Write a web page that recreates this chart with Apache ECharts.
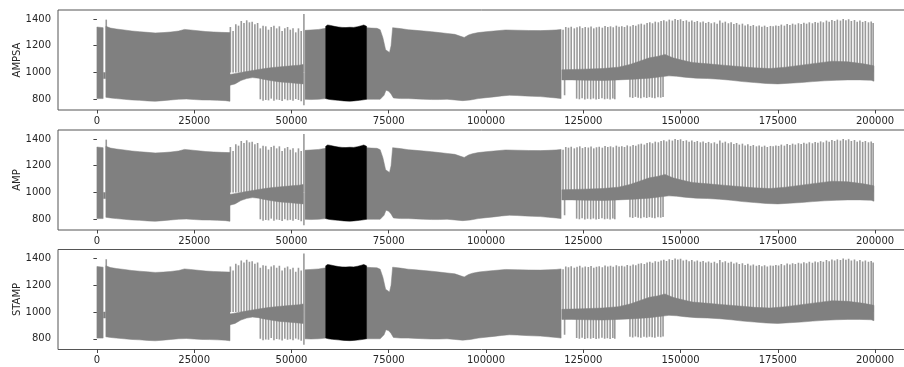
<!DOCTYPE html>
<html><head><meta charset="utf-8">
<script src="https://cdn.jsdelivr.net/npm/echarts@6/dist/echarts.min.js"></script>
<style>html,body{margin:0;padding:0;background:#fff}#c{width:904px;height:367px}</style>
</head><body><div id="c"></div>
<script>
const panelNames = ['AMPSA', 'AMP', 'STAMP'];
const xTicks = [0, 25000, 50000, 75000, 100000, 125000, 150000, 175000, 200000];
const yTicks = [800, 1000, 1200, 1400];

// dense envelope bands [x, value]
const bandA1Top = [[0,1340],[1600,1335]];
const bandA1Bottom = [[0,805],[1600,805]];
const bandA0Top = [[1700,1000],[2200,1000]];
const bandA0Bottom = [[1700,955],[2200,955]];
const bandA2Top = [[2300,1345],[3500,1332],[5000,1325],[7000,1318],[9000,1310],[11000,1305],[13000,1300],[15000,1296],[17000,1298],[19000,1303],[21000,1310],[22500,1322],[24000,1318],[26000,1312],[28000,1306],[30000,1303],[32000,1300],[34200,1298]];
const bandA2Bottom = [[2300,815],[3500,810],[5000,805],[7000,800],[9000,795],[11000,792],[13000,788],[15000,785],[17000,790],[19000,795],[21000,800],[23000,802],[25000,798],[27000,795],[29000,794],[31000,792],[33000,790],[34200,785]];
const bandBTop = [[34200,985],[36000,995],[38000,1005],[40000,1015],[42000,1025],[44000,1033],[46000,1040],[48000,1045],[50000,1050],[52000,1055],[53000,1060]];
const bandBBottom = [[34200,905],[35500,915],[37000,940],[38500,955],[40000,962],[41500,958],[43000,948],[45000,938],[47000,930],[49000,925],[51000,920],[53000,915]];
const bandCTop = [[53500,1315],[55000,1318],[57000,1322],[58800,1330]];
const bandCBottom = [[53500,800],[55000,798],[57000,800],[58800,805]];
const bandDTop = [[58800,1345],[59300,1355],[60000,1352],[61000,1345],[62000,1340],[63000,1337],[64000,1336],[65000,1338],[66000,1337],[67000,1342],[68000,1350],[68600,1355],[69300,1345]];
const bandDBottom = [[58800,805],[59500,800],[60500,796],[62000,792],[63500,788],[65000,786],[66000,788],[67500,792],[68500,796],[69300,800]];
const bandETop = [[69300,1335],[70500,1332],[72000,1330],[72800,1320],[73500,1260],[74200,1170],[75200,1150],[75600,1200],[76000,1335],[78000,1328],[80000,1320],[82000,1315],[84000,1310],[86000,1305],[88000,1298],[90000,1292],[92000,1285],[93500,1270],[94400,1262],[95500,1280],[96500,1290],[98000,1298],[100000,1305],[102000,1310],[105000,1318],[108000,1316],[111000,1314],[114000,1313],[116000,1315],[118000,1318],[119300,1322]];
const bandEBottom = [[69300,800],[71000,800],[72800,800],[73800,830],[74300,868],[75000,860],[75600,840],[76200,810],[78000,805],[80000,805],[82000,803],[84000,800],[86000,798],[88000,798],[90000,800],[92000,795],[94000,790],[96000,795],[98000,805],[100000,812],[102000,818],[104000,825],[106000,830],[108000,828],[110000,825],[112000,822],[114000,820],[116000,815],[118000,810],[119300,805]];
const bandFTop = [[119500,1020],[125000,1025],[130000,1030],[134000,1040],[137000,1060],[140000,1090],[142000,1110],[144000,1120],[146000,1135],[148000,1110],[150000,1095],[153000,1075],[157000,1065],[161000,1055],[165000,1045],[169000,1035],[173000,1030],[177000,1040],[181000,1055],[185000,1070],[189000,1085],[193000,1080],[197000,1065],[199700,1050]];
const bandFBottom = [[119500,945],[122000,945],[126000,942],[130000,940],[134000,945],[138000,950],[142000,958],[145000,968],[147000,975],[149000,972],[151000,965],[154000,958],[157000,955],[160000,950],[163000,942],[166000,932],[169000,925],[172000,918],[175000,915],[178000,920],[181000,925],[184000,932],[187000,938],[190000,942],[193000,945],[196000,945],[199000,942],[199700,935]];

// upward spikes: x and top value (base inside central band)
const upX = [2400, 53200,
  34300,35000,35700,36400,37100,37800,38500,39200,39900,40600,41300,42000,42700,43400,44100,44800,45500,46200,46900,47600,48300,49000,49700,50400,51100,51800,52500,
  119800,120500,121200,121900,122700,123400,124100,124800,125500,126300,127000,127700,128400,129100,129900,130600,131300,132000,132700,133500,134200,134900,135600,136300,137100,137800,138500,139200,139900,140700,141400,142100,142800,143500,144300,145000,145700,146400,147100,147900,148600,149300,150000,150700,151500,152200,152900,153600,154300,155100,155800,156500,157200,157900,158700,159400,160100,160800,161500,162300,163000,163700,164400,165100,165900,166600,167300,168000,168700,169500,170200,170900,171600,172300,173100,173800,174500,175200,175900,176700,177400,178100,178800,179500,180300,181000,181700,182400,183100,183900,184600,185300,186000,186700,187500,188200,188900,189600,190300,191100,191800,192500,193200,193900,194700,195400,196100,196800,197500,198300,199000,199500];
const upTop = [1395, 1437,
  1340,1310,1360,1350,1385,1370,1390,1375,1380,1360,1370,1330,1350,1345,1320,1340,1350,1330,1345,1310,1330,1340,1320,1330,1300,1330,1310,
  1320,1340,1335,1342,1330,1338,1345,1332,1340,1336,1344,1330,1338,1342,1335,1348,1340,1345,1338,1350,1342,1346,1340,1352,1345,1355,1350,1360,1365,1358,1370,1375,1368,1380,1375,1385,1390,1382,1395,1388,1400,1392,1398,1385,1390,1380,1388,1378,1385,1375,1382,1370,1378,1368,1375,1365,1388,1372,1380,1368,1375,1362,1370,1358,1365,1352,1360,1348,1355,1345,1352,1342,1350,1340,1348,1345,1352,1348,1358,1350,1362,1355,1365,1358,1368,1362,1372,1365,1375,1368,1378,1372,1382,1375,1388,1380,1392,1385,1395,1388,1400,1390,1398,1385,1392,1380,1388,1378,1385,1375,1382,1370];
// downward spikes: x and bottom value
const downX = [53200,
  42000,42700,43400,44100,44800,45500,46200,46900,47600,48300,49000,49700,50400,51100,51800,52500,
  120200,123300,124000,124700,125400,126100,126900,127600,128300,129000,129800,130500,131200,131900,132600,133100,
  137000,137700,138400,139100,139800,140600,141300,142000,142700,143400,144200,144900,145500];
const downBottom = [755,
  800,790,795,792,805,790,798,795,788,800,792,796,790,802,795,785,
  830,805,800,808,798,804,800,806,798,802,808,800,804,798,806,800,
  815,810,818,812,808,815,810,816,812,808,815,812,818];

const bandColor = '#808080';
const bands = [
  {top: bandA1Top, bottom: bandA1Bottom, color: bandColor},
  {top: bandA0Top, bottom: bandA0Bottom, color: bandColor},
  {top: bandA2Top, bottom: bandA2Bottom, color: bandColor},
  {top: bandBTop, bottom: bandBBottom, color: bandColor},
  {top: bandCTop, bottom: bandCBottom, color: bandColor},
  {top: bandETop, bottom: bandEBottom, color: bandColor},
  {top: bandFTop, bottom: bandFBottom, color: bandColor},
  {top: bandDTop, bottom: bandDBottom, color: '#000000'}
];

const spikeData = [];
upX.forEach((x, i) => spikeData.push([x, 1000, upTop[i]]));
downX.forEach((x, i) => spikeData.push([x, 1000, downBottom[i]]));
const bandData = bands.map((b, i) => [b.top[0][0], 1000, i]);

const font = 'DejaVu Sans';
const tops = [10, 130, 249.5];
const grids = [], xAxes = [], yAxes = [], series = [];
tops.forEach((t, i) => {
  grids.push({left: 58, top: t, width: 856, height: 100, show: true, borderColor: '#555', borderWidth: 1,
    backgroundColor: 'transparent', containLabel: false, outerBoundsMode: 'none'});
  xAxes.push({type: 'value', gridIndex: i, min: -10000, max: 210000,
    axisLine: {show: false}, splitLine: {show: false},
    axisTick: {show: true, length: 3.5, customValues: xTicks, lineStyle: {color: '#444'}},
    axisLabel: {customValues: xTicks, margin: 6, fontSize: 10, fontFamily: font, color: '#262626', formatter: v => String(v)}});
  yAxes.push({type: 'value', gridIndex: i, min: 720, max: 1467,
    name: panelNames[i], nameLocation: 'middle', nameGap: 36, nameMoveOverlap: false,
    nameTextStyle: {fontSize: 10, fontFamily: font, color: '#262626'},
    axisLine: {show: false}, splitLine: {show: false},
    axisTick: {show: true, length: 3.5, customValues: yTicks, lineStyle: {color: '#444'}},
    axisLabel: {customValues: yTicks, margin: 7, fontSize: 10, fontFamily: font, color: '#262626', formatter: v => String(v)}});
  series.push({type: 'custom', xAxisIndex: i, yAxisIndex: i, clip: true, silent: true,
    data: spikeData, encode: {x: 0, y: [1, 2]},
    renderItem: (params, api) => {
      const p1 = api.coord([api.value(0), api.value(1)]);
      const p2 = api.coord([api.value(0), api.value(2)]);
      return {type: 'line', shape: {x1: p1[0], y1: p1[1], x2: p2[0], y2: p2[1]},
        style: {stroke: '#9a9a9a', lineWidth: 1.6}};
    }});
  series.push({type: 'custom', xAxisIndex: i, yAxisIndex: i, clip: true, silent: true,
    data: bandData, encode: {x: 0, y: 1},
    renderItem: (params, api) => {
      const b = bands[api.value(2)];
      const pts = b.top.map(p => api.coord(p)).concat(b.bottom.slice().reverse().map(p => api.coord(p)));
      return {type: 'polygon', shape: {points: pts}, style: {fill: b.color, stroke: b.color, lineWidth: 0.5}};
    }});
});

const chart = echarts.init(document.getElementById('c'), null, {renderer: 'canvas'});
chart.setOption({animation: false, backgroundColor: '#fff', grid: grids, xAxis: xAxes, yAxis: yAxes, series: series});
</script></body></html>
